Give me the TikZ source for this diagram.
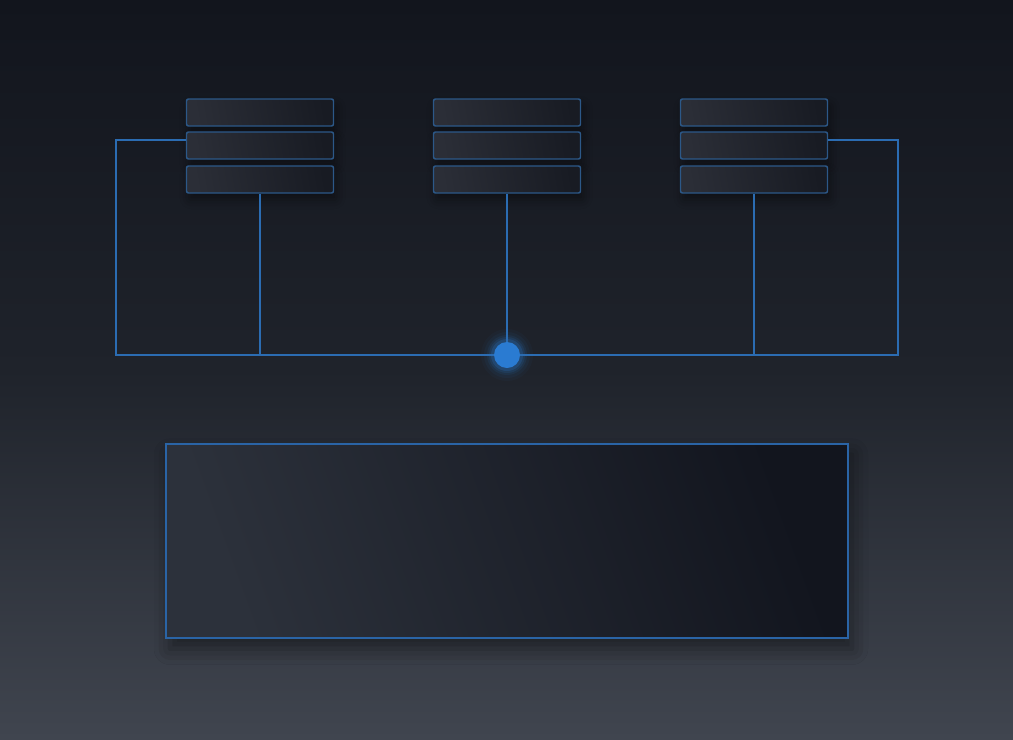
\documentclass[tikz,border=0pt]{standalone}
\usetikzlibrary{shadows.blur,calc}
\definecolor{bgtop}{HTML}{12151D}
\definecolor{bgmid}{HTML}{1F232B}
\definecolor{bgbot}{HTML}{40454F}
\definecolor{wirec}{HTML}{2B6CB2}
\definecolor{rowedge}{HTML}{2C5888}
\definecolor{rowa}{HTML}{2B2E37}
\definecolor{rowb}{HTML}{181B23}
\definecolor{bigedge}{HTML}{2A64A6}
\definecolor{biga}{HTML}{2C313B}
\definecolor{bigb}{HTML}{12151E}
\definecolor{hubc}{HTML}{2A7BD2}
\tikzset{
  rowbox/.style={rectangle, rounded corners=1.5pt, draw=rowedge, line width=1.1pt,
    minimum width=110.25pt, minimum height=20.25pt, inner sep=0pt,
    left color=rowa, right color=rowb, shading angle=100,
    blur shadow={shadow xshift=2pt, shadow yshift=-5pt, shadow opacity=40, shadow blur radius=7pt}},
  bigbox/.style={rectangle, draw=bigedge, line width=0.9pt,
    minimum width=511.5pt, minimum height=145.5pt, inner sep=0pt,
    left color=biga, right color=bigb, shading angle=110,
    blur shadow={shadow xshift=3pt, shadow yshift=-8pt, shadow opacity=45, shadow blur radius=12pt}},
  wire/.style={draw=wirec, line width=1.5pt},
  hubdot/.style={circle, fill=hubc, minimum size=19.5pt, inner sep=0pt}
}
\begin{document}
\begin{tikzpicture}[x=0.75pt,y=-0.75pt]
\useasboundingbox (0,0) rectangle (1013,739);
\shade[top color=bgtop, bottom color=bgbot, middle color=bgmid] (0,0) rectangle (1013,739);
% big box
\node[bigbox] (big) at (507,541) {};
% stacks
\foreach \n/\x in {l/260, m/507, r/754}{
  \node[rowbox] (\n1) at (\x,112.5) {};
  \node[rowbox] (\n2) at (\x,145.5) {};
  \node[rowbox] (\n3) at (\x,179.5) {};
}
% coordinates
\coordinate (tl) at (116,140);
\coordinate (bl) at (116,355);
\coordinate (tr) at (898,140);
\coordinate (br) at (898,355);
% glow
\foreach \r/\o in {26/0.04,23/0.06,20/0.09,18/0.13,16/0.2}{
  \fill[hubc, opacity=\o] (507,355) circle[radius=\r*0.75pt];
}
% wires
\draw[wire] (l2.west|-tl) -- (tl) -- (bl) -- (br) -- (tr) -- (r2.east|-tr);
\draw[wire] (l3.south) -- (l3.south|-bl);
\draw[wire] (r3.south) -- (r3.south|-bl);
\node[hubdot] (hub) at (507,355) {};
\draw[wire] (m3.south) -- (hub.north);
\end{tikzpicture}
\end{document}
